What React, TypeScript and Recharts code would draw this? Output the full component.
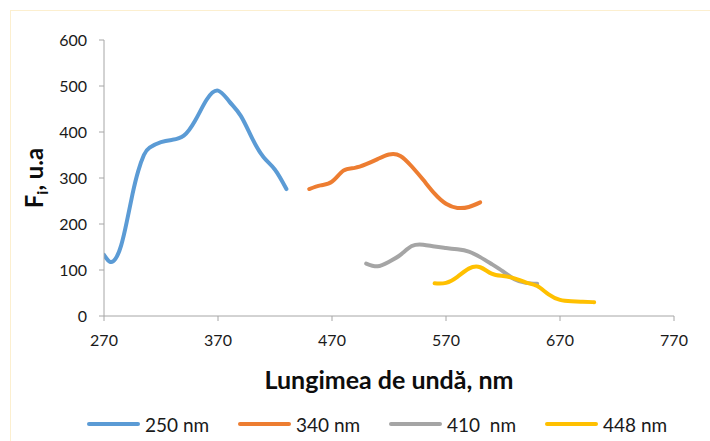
import React from "react";
import { LineChart, Line, XAxis, YAxis } from "recharts";

// Excitation wavelengths (legend labels) and series colours
const seriesNames = ["250 nm", "340 nm", "410  nm", "448 nm"];
const seriesColors = ["#5b9bd5", "#ed7d31", "#a5a5a5", "#ffc000"];

// Emission spectra: wavelength (nm) and fluorescence intensity (u.a)
const wl250 = [270, 275, 280, 285, 290, 295, 300, 305, 310, 320, 330, 340, 350, 360, 370, 380, 390, 400, 410, 420, 430];
const fi250 = [133, 118, 124, 153, 205, 265, 315, 350, 366, 378, 383, 392, 425, 470, 490, 466, 435, 386, 345, 318, 276];

const wl340 = [450, 460, 470, 480, 490, 500, 510, 520, 530, 540, 550, 560, 570, 580, 590, 600];
const fi340 = [276, 284, 292, 316, 322, 330, 341, 351, 348, 325, 296, 266, 244, 235, 237, 247];

const wl410 = [500, 510, 520, 530, 540, 550, 560, 570, 580, 590, 600, 610, 620, 630, 640, 650];
const fi410 = [114, 108, 118, 133, 152, 155, 151, 148, 145, 140, 128, 113, 97, 80, 72, 70];

const wl448 = [560, 570, 580, 590, 600, 610, 620, 630, 640, 650, 660, 670, 680, 690, 700];
const fi448 = [71, 72, 85, 103, 106, 92, 87, 82, 73, 65, 47, 35, 32, 31, 30];

const xTicks = [270, 370, 470, 570, 670, 770];
const yTicks = [0, 100, 200, 300, 400, 500, 600];

const toPoints = (xs: number[], ys: number[]) => xs.map((x, i) => ({ x, y: ys[i] }));
const seriesData = [
  toPoints(wl250, fi250),
  toPoints(wl340, fi340),
  toPoints(wl410, fi410),
  toPoints(wl448, fi448),
];

const FONT = "Lato, 'Noto Sans', sans-serif";
const AXIS = "#a6a6a6";
const TEXT = "#1a1a1a";

const YLabel = () => (
  <text
    x={43}
    y={178}
    transform="rotate(-90, 43, 178)"
    textAnchor="middle"
    fontFamily={FONT}
    fontWeight={700}
    fontSize={24}
    fill="#0d0d0d"
  >
    F
    <tspan fontSize={16} dy={5}>i</tspan>
    <tspan dy={-5}>, u.a</tspan>
  </text>
);

const XLabel = () => (
  <text
    x={389}
    y={389}
    textAnchor="middle"
    fontFamily={FONT}
    fontWeight={700}
    fontSize={25}
    fill="#0d0d0d"
  >
    Lungimea de undă, nm
  </text>
);

const legendX = [87, 238, 389, 545];

export default function App() {
  return (
    <div style={{ position: "absolute", left: 0, top: 0, width: 710, height: 441, overflow: "hidden", background: "#fff" }}>
      <div
        style={{
          position: "absolute",
          left: 10,
          top: 10,
          width: 700,
          height: 431,
          borderTop: "1px solid #fcefcf",
          borderLeft: "1px solid #fcefcf",
        }}
      />
      <div style={{ position: "absolute", left: 0, top: 0 }}>
        <LineChart width={710} height={441} margin={{ top: 40, right: 36, bottom: 0, left: 0 }}>
          <XAxis
            type="number"
            dataKey="x"
            domain={[270, 770]}
            ticks={xTicks}
            allowDataOverflow
            height={125}
            stroke={AXIS}
            tickSize={5}
            tickMargin={14}
            tick={{ fill: TEXT, fontSize: 16, fontFamily: FONT }}
            label={<XLabel />}
          />
          <YAxis
            type="number"
            dataKey="y"
            domain={[0, 600]}
            ticks={yTicks}
            width={104}
            stroke={AXIS}
            tickSize={5}
            tickMargin={12}
            tick={{ fill: TEXT, fontSize: 16, fontFamily: FONT }}
            label={<YLabel />}
          />
          {seriesData.map((d, i) => (
            <Line
              key={seriesNames[i]}
              data={d}
              dataKey="y"
              name={seriesNames[i]}
              type="natural"
              stroke={seriesColors[i]}
              strokeWidth={4}
              dot={false}
              activeDot={false}
              isAnimationActive={false}
              strokeLinecap="round"
            />
          ))}
        </LineChart>
      </div>
      {seriesNames.map((name, i) => (
        <div
          key={name}
          style={{
            position: "absolute",
            left: legendX[i],
            top: 411,
            height: 26,
            display: "flex",
            alignItems: "center",
            fontFamily: FONT,
            fontSize: 19,
            color: TEXT,
            whiteSpace: "pre",
          }}
        >
          <span style={{ display: "inline-block", width: 53, height: 4, borderRadius: 2, background: seriesColors[i], marginRight: 5 }} />
          <span>{name}</span>
        </div>
      ))}
    </div>
  );
}
